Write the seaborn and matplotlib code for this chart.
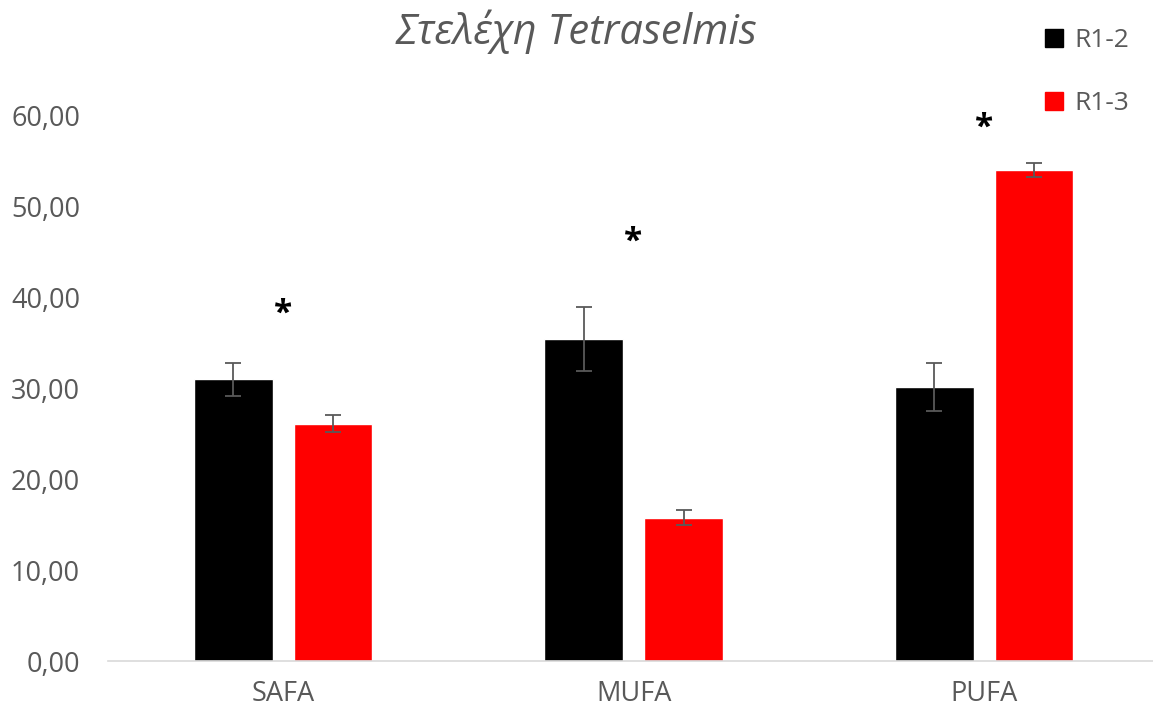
import numpy as np
import pandas as pd
import matplotlib
matplotlib.use("Agg")
import matplotlib.pyplot as plt
from matplotlib.lines import Line2D
import seaborn as sns

# Fatty acid classes and the two Tetraselmis strains
categories = ["SAFA", "MUFA", "PUFA"]
strains = ["R1-2", "R1-3"]
r12_values = [30.95, 35.40, 30.10]
r13_values = [26.10, 15.75, 53.95]
r12_errors = [1.80, 3.50, 2.60]
r13_errors = [0.88, 0.85, 0.80]
significance = ["*", "*", "*"]
star_heights = [38.1, 46.0, 58.5]
yticks = [0, 10, 20, 30, 40, 50, 60]
ytick_labels = ["0,00", "10,00", "20,00", "30,00", "40,00", "50,00", "60,00"]
title = "Στελέχη Tetraselmis"

colors = ["#000000", "#ff0000"]
text_gray = "#595959"

df = pd.DataFrame({
    "acid": categories * 2,
    "strain": [strains[0]] * 3 + [strains[1]] * 3,
    "value": r12_values + r13_values,
})

sns.set_theme(style="white")
plt.rcParams["font.family"] = ["Open Sans", "DejaVu Sans"]

fig = plt.figure(figsize=(11.53, 7.13), dpi=100)
ax = fig.add_axes([0.0935, 0.0729, 0.912, 0.7658])

sns.barplot(data=df, x="acid", y="value", hue="strain", order=categories,
            hue_order=strains, palette=colors, width=0.57, gap=0.21,
            errorbar=None, saturation=1, legend=False, ax=ax)

# error bars on top of each bar
for container, errs in zip(ax.containers, [r12_errors, r13_errors]):
    xs = [p.get_x() + p.get_width() / 2 for p in container]
    hs = [p.get_height() for p in container]
    ax.errorbar(xs, hs, yerr=errs, fmt="none", ecolor=text_gray,
                elinewidth=1.3, capsize=5.5, capthick=1.3, zorder=3)

# significance markers
for i, (s, h) in enumerate(zip(significance, star_heights)):
    ax.text(i, h, s, ha="center", va="center", fontsize=24,
            fontweight="bold", color="black", clip_on=False)

ax.set_ylim(0, 60)
ax.set_xlim(-0.5, 2.5)
ax.set_yticks(yticks)
ax.set_yticklabels(ytick_labels)
ax.set_xlabel("")
ax.set_ylabel("")
ax.tick_params(axis="both", length=0, colors=text_gray, labelsize=19.5)
ax.tick_params(axis="y", pad=20)
ax.tick_params(axis="x", pad=14)
for side in ["top", "right", "left"]:
    ax.spines[side].set_visible(False)
ax.spines["bottom"].set_color("#d9d9d9")
ax.spines["bottom"].set_linewidth(1.2)

fig.text(0.5, 0.955, title, ha="center", va="center", fontsize=30,
         style="italic", color=text_gray)

handles = [Line2D([0], [0], marker="s", linestyle="none", markersize=13,
                  markerfacecolor=c, markeredgecolor=c) for c in colors]
fig.legend(handles, strains, loc="upper right", bbox_to_anchor=(0.995, 0.987),
           frameon=False, fontsize=19, labelcolor=text_gray,
           handlelength=0.8, handletextpad=0.35, labelspacing=1.45,
           borderpad=0.2)

fig.savefig("out.png", dpi=100)
